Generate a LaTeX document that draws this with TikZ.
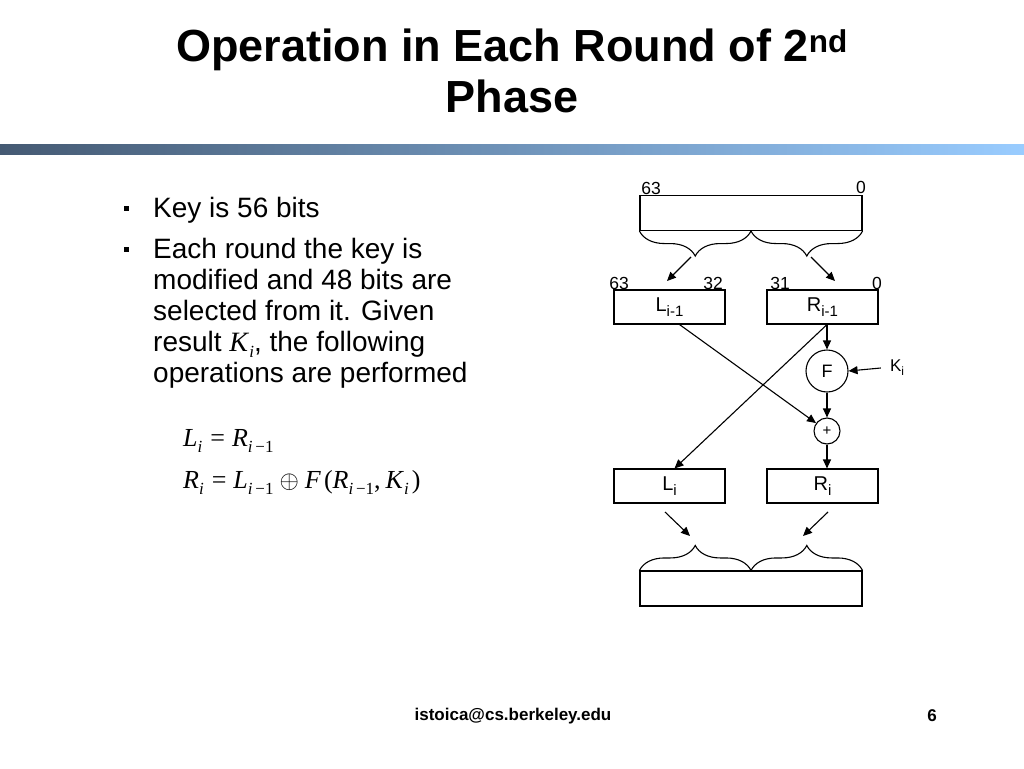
\documentclass[tikz,border=0pt]{standalone}
\usepackage{fontspec}
\setmainfont{Liberation Sans}
\newfontfamily\eqfont{Liberation Serif}
\usetikzlibrary{arrows.meta,decorations.pathreplacing}
\definecolor{barleft}{RGB}{69,90,115}
\definecolor{barright}{RGB}{153,204,255}
\newcommand{\lsub}[1]{\raisebox{-6pt}{\fontsize{17}{17}\selectfont #1}}
\newcommand{\ivar}[2]{\textit{#1}\lsub{#2}}
\newcommand{\bsub}[1]{\raisebox{-5pt}{\fontsize{15}{15}\selectfont #1}}
\begin{document}
\begin{tikzpicture}[x=1pt,y=-1pt,
  reg/.style={draw,line width=1.1pt,minimum width=111pt,minimum height=34pt,inner sep=0pt,font=\fontsize{20}{20}\selectfont},
  wide/.style={draw,line width=1.1pt,minimum width=222pt,minimum height=35pt,inner sep=0pt},
  bit/.style={font=\fontsize{17.5}{17.5}\selectfont,inner sep=0pt},
  op/.style={draw,circle,line width=1.1pt,inner sep=0pt},
  flow/.style={line width=1.1pt,-{Triangle[length=9pt,width=8pt]}},
  brc/.style={line width=1.1pt,decorate,decoration={brace,amplitude=25pt}},
  bul/.style={font=\fontsize{28}{30}\selectfont,anchor=base west,inner sep=0pt},
  eq/.style={font=\eqfont\fontsize{26}{26}\selectfont,anchor=base west,inner sep=0pt}]
\useasboundingbox (0,0) rectangle (1024,768);
% title and bar
\node[font=\bfseries\fontsize{45}{50}\selectfont,anchor=base,inner sep=0pt] (title) at (512,62) {Operation in Each Round of 2\textsuperscript{nd}};
\node[font=\bfseries\fontsize{45}{50}\selectfont,anchor=base,inner sep=0pt] (title2) at (512,112) {Phase};
\shade[left color=barleft,right color=barright] (0,144) rectangle (1024,154);
% bullets
\node[fill=black,inner sep=0pt,minimum size=5pt] (b1) at (126,208) {};
\node[bul] (k1) at (153,217) {Key is 56 bits};
\node[fill=black,inner sep=0pt,minimum size=5pt] (b2) at (126,249) {};
\node[bul] (k2) at (153,258) {Each round the key is};
\node[bul] (k3) at (153,289) {modified and 48 bits are};
\node[bul] (k4) at (153,320) {selected from it. Given};
\node[bul] (k5) at (153,351) {result {\eqfont\ivar{K}{\textit{i}}}, the following};
\node[bul] (k6) at (153,382) {operations are performed};
% equations
\node[eq] (eq1) at (183,446) {\ivar{L}{\textit{i}}\hspace{8pt}=\hspace{7pt}\ivar{R}{\textit{i}\,−1}};
\node[eq] (eq2) at (183,488) {\ivar{R}{\textit{i}}\hspace{8pt}=\hspace{7pt}\ivar{L}{\textit{i}\,−1}\hspace{6pt}{\fontsize{30}{30}\selectfont$\oplus$}\hspace{6pt}\textit{F}\hspace{3pt}(\ivar{R}{\textit{i}\,−1},\hspace{5pt}\ivar{K}{\textit{i}}\hspace{3pt})};
% key register
\node[wide] (key) at (751,213) {};
\node[bit] (k63) at (651,188) {63};
\node[bit] (k0) at (861,187) {0};
\draw[brc] (key.south) -- (key.south west);
\draw[brc] (key.south east) -- (key.south);
\coordinate (ta) at (691,257);
\coordinate (tb) at (667,281);
\coordinate (tc) at (811,257);
\coordinate (td) at (835,281);
\draw[flow] (ta) -- (tb);
\draw[flow] (tc) -- (td);
% halves
\node[bit] (l63) at (619,283) {63};
\node[bit] (l32) at (713,283) {32};
\node[bit] (r31) at (780,283) {31};
\node[bit] (r0) at (877,283) {0};
\node[reg] (lp) at (669.5,307) {L\bsub{i-1}};
\node[reg] (rp) at (822.5,307) {R\bsub{i-1}};
\node[op,minimum size=42pt,font=\fontsize{18}{18}\selectfont] (f) at (827,371) {F};
\node[font=\fontsize{17}{17}\selectfont,inner sep=0pt] (ki) at (897,368) {K\raisebox{-4pt}{\fontsize{12}{12}\selectfont i}};
\node[op,minimum size=26pt,font=\fontsize{15}{15}\selectfont] (xor) at (827,431) {+};
\node[reg] (li) at (669.5,486) {L\bsub{i}};
\node[reg] (ri) at (822.5,486) {R\bsub{i}};
\draw[flow] (f |- rp.south) -- (f.north);
\draw[flow] ([xshift=-9pt]ki.west) -- (f.east);
\draw[flow] (f.south) -- (xor.north);
\draw[flow] (xor.south) -- (xor.south |- ri.north);
\draw[flow] ([xshift=10pt]lp.south) -- (xor);
\draw[flow] (f |- rp.south) -- ([xshift=5pt]li.north);
% output register
\coordinate (ba) at (665,512);
\coordinate (bb) at (690,536);
\coordinate (bc) at (828,512);
\coordinate (bd) at (803,536);
\draw[flow] (ba) -- (bb);
\draw[flow] (bc) -- (bd);
\node[wide] (out) at (751,588.5) {};
\draw[brc] (out.north west) -- (out.north);
\draw[brc] (out.north) -- (out.north east);
% footer
\node[font=\bfseries\fontsize{17}{17}\selectfont] (mail) at (513,716) {istoica@cs.berkeley.edu};
\node[font=\bfseries\fontsize{17}{17}\selectfont] (pg) at (932,716) {6};
\end{tikzpicture}
\end{document}
